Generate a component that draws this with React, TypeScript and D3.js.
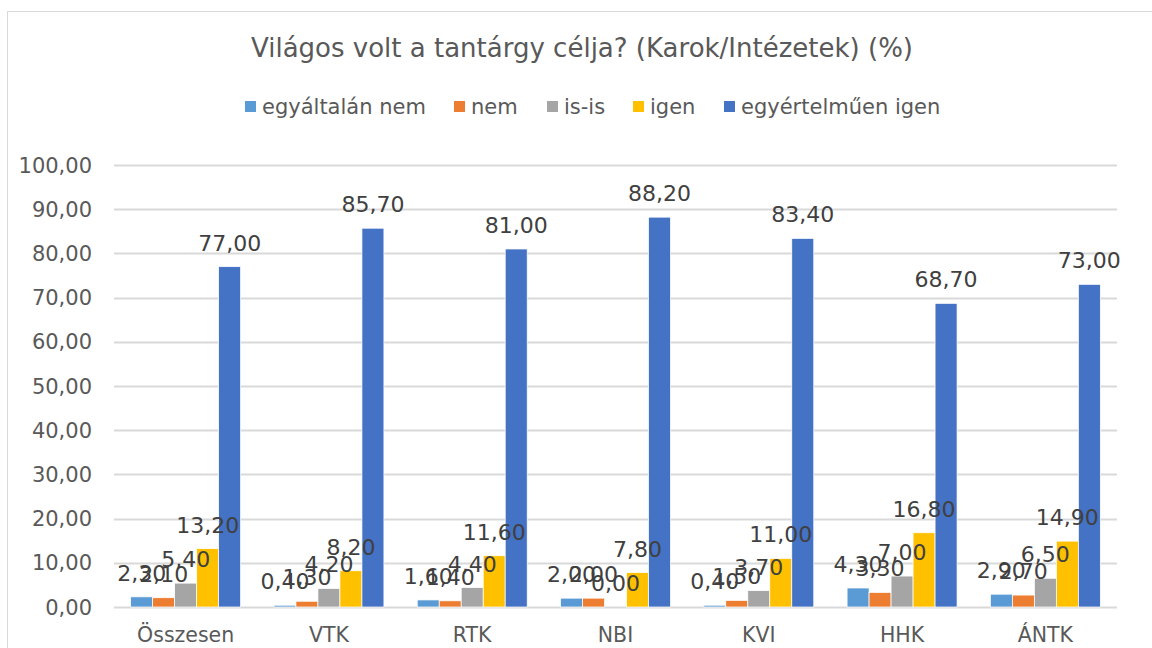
import * as d3 from "d3";
import { useEffect, useRef } from "react";

const categories = ["Összesen", "VTK", "RTK", "NBI", "KVI", "HHK", "ÁNTK"];
const seriesNames = ["egyáltalán nem", "nem", "is-is", "igen", "egyértelműen igen"];
const seriesColors = ["#5B9BD5", "#ED7D31", "#A5A5A5", "#FFC000", "#4472C4"];

const egyaltalanNem = [2.3, 0.4, 1.6, 2.0, 0.4, 4.3, 2.9];
const nem = [2.1, 1.3, 1.4, 2.0, 1.5, 3.3, 2.7];
const isIs = [5.4, 4.2, 4.4, 0.0, 3.7, 7.0, 6.5];
const igen = [13.2, 8.2, 11.6, 7.8, 11.0, 16.8, 14.9];
const egyertelmuenIgen = [77.0, 85.7, 81.0, 88.2, 83.4, 68.7, 73.0];

const yTicks = [0, 10, 20, 30, 40, 50, 60, 70, 80, 90, 100];

const FONT = "'DejaVu Sans', Verdana, sans-serif";

export default function App() {
  const ref = useRef<SVGSVGElement | null>(null);

  useEffect(() => {
    if (!ref.current) return;
    const svg = d3.select(ref.current);
    svg.selectAll("*").remove();

    const width = 1152;
    const height = 648;
    const plot = { left: 114, right: 1117, top: 165, bottom: 607 };

    const values = [egyaltalanNem, nem, isIs, igen, egyertelmuenIgen];
    const data = categories.map((c, i) => ({
      cat: c,
      vals: seriesNames.map((s, j) => ({ s, j, v: values[j][i] })),
    }));

    const fmt = (v: number) => v.toFixed(2).replace(".", ",");

    svg
      .append("rect")
      .attr("width", width)
      .attr("height", height)
      .attr("fill", "#fff");

    svg
      .append("rect")
      .attr("x", 7.5)
      .attr("y", 11.5)
      .attr("width", width + 20)
      .attr("height", height + 20)
      .attr("fill", "none")
      .attr("stroke", "#d9d9d9");

    const x0 = d3
      .scaleBand()
      .domain(categories)
      .range([plot.left, plot.right])
      .padding(0);

    const x1 = d3
      .scaleBand()
      .domain(seriesNames)
      .range([0, x0.bandwidth()])
      .paddingInner(0)
      .paddingOuter(0.757);

    const color = d3.scaleOrdinal<string>().domain(seriesNames).range(seriesColors);

    const y = d3.scaleLinear().domain([0, 100]).range([plot.bottom, plot.top]);

    // title
    svg
      .append("text")
      .attr("x", 582)
      .attr("y", 57)
      .attr("text-anchor", "middle")
      .attr("font-family", FONT)
      .attr("font-size", 26)
      .attr("fill", "#595959")
      .text("Világos volt a tantárgy célja? (Karok/Intézetek) (%)");

    // legend
    const legendX = [245, 454, 547, 633, 724];
    const lg = svg
      .append("g")
      .selectAll("g")
      .data(seriesNames)
      .join("g")
      .attr("transform", (_d, i) => `translate(${legendX[i]},101)`);
    lg.append("rect")
      .attr("width", 11)
      .attr("height", 11)
      .attr("fill", (d) => color(d));
    lg.append("text")
      .attr("x", 17)
      .attr("y", 13)
      .attr("font-family", FONT)
      .attr("font-size", 21)
      .attr("fill", "#595959")
      .text((d) => d);

    // gridlines
    svg
      .append("g")
      .selectAll("line")
      .data(yTicks)
      .join("line")
      .attr("x1", plot.left)
      .attr("x2", plot.right)
      .attr("y1", (d) => Math.round(y(d)) + 0.5)
      .attr("y2", (d) => Math.round(y(d)) + 0.5)
      .attr("stroke", "#d9d9d9")
      .attr("stroke-width", 2);

    // y labels
    svg
      .append("g")
      .selectAll("text")
      .data(yTicks)
      .join("text")
      .attr("x", 92)
      .attr("y", (d) => y(d) + 7.5)
      .attr("text-anchor", "end")
      .attr("font-family", FONT)
      .attr("font-size", 21)
      .attr("fill", "#595959")
      .text((d) => fmt(d));

    // bars
    const groups = svg
      .append("g")
      .selectAll("g")
      .data(data)
      .join("g")
      .attr("transform", (d) => `translate(${x0(d.cat)},0)`);

    groups
      .selectAll("rect")
      .data((d) => d.vals)
      .join("rect")
      .attr("x", (d) => x1(d.s)!)
      .attr("y", (d) => y(d.v))
      .attr("width", x1.bandwidth())
      .attr("height", (d) => y(0) - y(d.v))
      .attr("fill", (d) => color(d.s))
      .attr("stroke", "#fff")
      .attr("stroke-width", 0.75);

    groups
      .selectAll("text")
      .data((d) => d.vals)
      .join("text")
      .attr("x", (d) => x1(d.s)! + x1.bandwidth() / 2)
      .attr("y", (d) => y(d.v) - 16)
      .attr("text-anchor", "middle")
      .attr("font-family", FONT)
      .attr("font-size", 22)
      .attr("fill", "#404040")
      .text((d) => fmt(d.v));

    // category labels
    svg
      .append("g")
      .selectAll("text")
      .data(categories)
      .join("text")
      .attr("x", (d) => x0(d)! + x0.bandwidth() / 2)
      .attr("y", 642)
      .attr("text-anchor", "middle")
      .attr("font-family", FONT)
      .attr("font-size", 20.5)
      .attr("fill", "#595959")
      .text((d) => d);
  }, []);

  return (
    <svg
      ref={ref}
      width={1152}
      height={648}
      viewBox="0 0 1152 648"
      style={{ position: "absolute", left: 0, top: 0, display: "block" }}
    />
  );
}
